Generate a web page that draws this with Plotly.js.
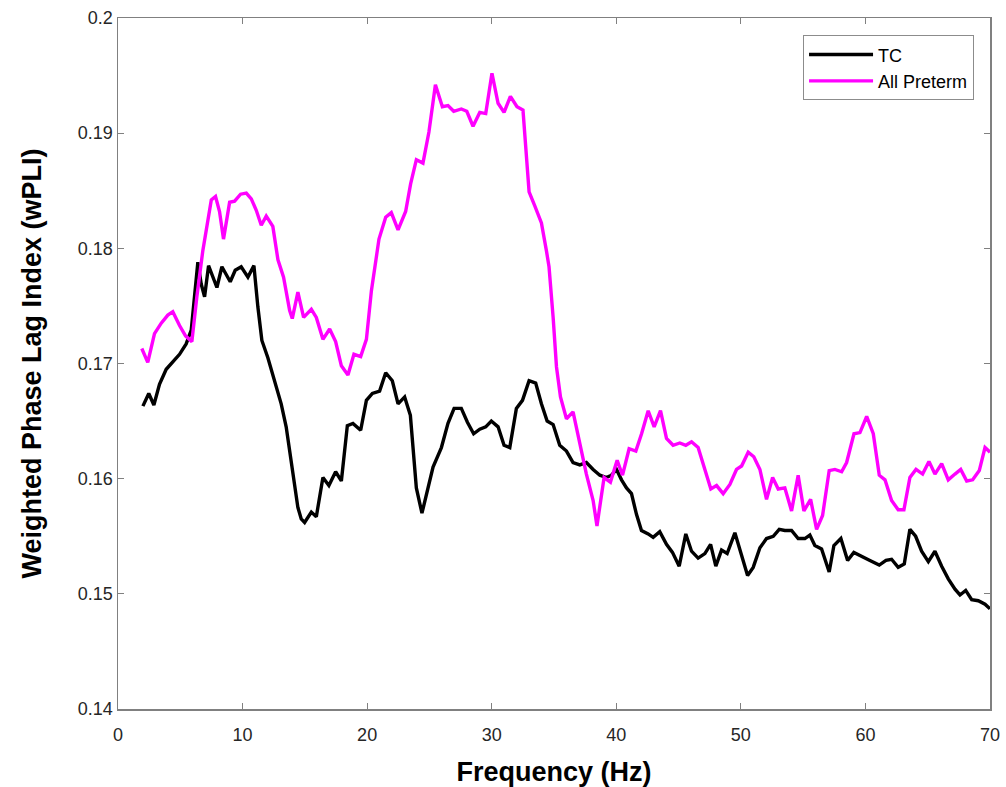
<!DOCTYPE html>
<html>
<head>
<meta charset="utf-8">
<script src="https://cdn.plot.ly/plotly-3.0.1.min.js"></script>
<style>html,body{margin:0;padding:0;background:#fff;}#chart{width:1006px;height:787px;}</style>
</head>
<body>
<div id="chart"></div>
<script>
const freqTC = [2.0,2.47,2.88,3.33,3.87,4.4,4.94,5.47,5.88,6.14,6.41,6.68,6.95,7.27,7.62,7.94,8.34,8.69,9.01,9.41,9.89,10.43,10.91,11.23,11.55,12.03,12.57,13.1,13.5,14.04,14.44,14.71,14.98,15.52,15.92,16.45,16.93,17.47,17.93,18.41,18.86,19.48,19.94,20.42,21.0,21.49,22.02,22.48,23.01,23.47,23.95,24.4,25.29,25.96,26.49,26.98,27.56,28.05,28.55,29.04,29.52,29.97,30.51,30.99,31.45,31.98,32.47,33.0,33.53,33.99,34.45,34.93,35.46,36.0,36.53,37.07,37.6,38.14,38.68,39.21,39.61,40.02,40.42,40.82,41.22,41.62,42.02,42.56,42.96,43.49,44.03,44.51,45.05,45.58,46.04,46.57,47.11,47.57,47.99,48.45,48.9,49.52,50.06,50.54,50.99,51.53,52.06,52.6,53.08,53.53,54.07,54.6,55.14,55.54,55.94,56.48,57.09,57.47,58.03,58.57,59.07,59.69,60.36,61.11,61.65,62.1,62.63,63.12,63.57,64.03,64.51,65.05,65.58,66.12,66.65,67.19,67.59,68.05,68.53,69.06,69.6,70.0];
const wpliTC = [0.1663,0.1674,0.1664,0.1682,0.1695,0.1701,0.1708,0.1717,0.1729,0.1758,0.1788,0.1769,0.1758,0.1785,0.1774,0.1766,0.1784,0.1777,0.1771,0.1781,0.1784,0.1775,0.1785,0.1749,0.1720,0.1705,0.1685,0.1665,0.1645,0.1604,0.1575,0.1565,0.1562,0.1571,0.1567,0.1601,0.1594,0.1606,0.1598,0.1646,0.1648,0.1642,0.1668,0.1674,0.1676,0.1692,0.1685,0.1665,0.1671,0.1655,0.1592,0.1570,0.1610,0.1627,0.1648,0.1661,0.1661,0.1649,0.1639,0.1643,0.1645,0.1650,0.1645,0.1629,0.1627,0.1661,0.1668,0.1685,0.1683,0.1665,0.1650,0.1647,0.1629,0.1624,0.1614,0.1612,0.1614,0.1608,0.1603,0.1601,0.1603,0.1608,0.1599,0.1592,0.1587,0.1569,0.1555,0.1552,0.1549,0.1554,0.1543,0.1536,0.1524,0.1552,0.1537,0.1531,0.1535,0.1543,0.1524,0.1538,0.1535,0.1553,0.1533,0.1516,0.1523,0.1540,0.1548,0.1550,0.1556,0.1555,0.1555,0.1548,0.1548,0.1551,0.1542,0.1539,0.1519,0.1542,0.1548,0.1529,0.1536,0.1533,0.1529,0.1525,0.1529,0.1530,0.1523,0.1526,0.1556,0.1550,0.1537,0.1528,0.1537,0.1524,0.1513,0.1504,0.1499,0.1503,0.1495,0.1494,0.1491,0.1487];
const freqPT = [1.91,2.39,2.93,3.47,4.0,4.4,4.94,5.42,5.93,6.33,6.81,7.16,7.49,7.83,8.15,8.47,8.74,8.96,9.36,9.84,10.3,10.7,11.1,11.5,11.9,12.43,12.84,13.29,13.78,13.99,14.44,14.9,15.52,15.92,16.45,16.99,17.47,17.93,18.46,18.94,19.48,19.94,20.34,20.95,21.49,21.94,22.48,23.09,23.49,23.95,24.48,24.96,25.48,26.04,26.49,26.95,27.56,28.0,28.5,29.04,29.52,30.02,30.51,30.99,31.5,32.03,32.51,33.0,33.45,33.99,34.39,34.6,34.93,35.2,35.52,36.0,36.53,37.01,37.6,38.14,38.45,39.02,39.53,40.07,40.5,41.03,41.57,42.03,42.56,43.04,43.55,44.03,44.56,45.1,45.58,46.04,46.57,47.11,47.59,48.05,48.58,49.12,49.65,50.06,50.59,51.04,51.53,52.06,52.55,53.0,53.53,54.07,54.6,55.06,55.6,56.08,56.56,57.09,57.55,58.09,58.49,59.08,59.56,60.1,60.63,61.11,61.57,62.1,62.63,63.09,63.57,64.06,64.59,65.1,65.58,66.12,66.65,67.19,67.65,68.13,68.61,69.14,69.6,70.0];
const wpliPT = [0.1713,0.1701,0.1726,0.1735,0.1742,0.1745,0.1733,0.1724,0.1719,0.1758,0.1798,0.1820,0.1842,0.1845,0.1832,0.1808,0.1827,0.1840,0.1841,0.1847,0.1848,0.1843,0.1833,0.1820,0.1828,0.1819,0.1790,0.1775,0.1746,0.1739,0.1762,0.1740,0.1747,0.1740,0.1721,0.1730,0.1719,0.1698,0.1690,0.1708,0.1706,0.1721,0.1763,0.1808,0.1827,0.1831,0.1816,0.1832,0.1856,0.1877,0.1874,0.1901,0.1942,0.1923,0.1924,0.1919,0.1921,0.1919,0.1906,0.1918,0.1917,0.1952,0.1926,0.1918,0.1932,0.1923,0.1920,0.1849,0.1837,0.1822,0.1798,0.1784,0.1740,0.1697,0.1671,0.1652,0.1658,0.1633,0.1604,0.1581,0.1559,0.1601,0.1597,0.1616,0.1603,0.1626,0.1624,0.1639,0.1659,0.1645,0.1659,0.1635,0.1629,0.1631,0.1629,0.1632,0.1627,0.1608,0.1591,0.1594,0.1587,0.1595,0.1608,0.1611,0.1623,0.1619,0.1608,0.1582,0.1601,0.1591,0.1592,0.1572,0.1603,0.1572,0.1582,0.1556,0.1568,0.1607,0.1608,0.1606,0.1614,0.1639,0.1640,0.1654,0.1639,0.1603,0.1599,0.1581,0.1573,0.1573,0.1601,0.1608,0.1604,0.1615,0.1604,0.1613,0.1599,0.1604,0.1608,0.1598,0.1599,0.1607,0.1627,0.1623];
const seriesNames = ["TC", "All Preterm"];
const xTicks = [0,10,20,30,40,50,60,70];
const yTicks = [0.14,0.15,0.16,0.17,0.18,0.19,0.2];
const yTickText = ["0.14","0.15","0.16","0.17","0.18","0.19","0.2"];

const FONT = 'Liberation Sans, Arial, sans-serif';
const traces = [
  {x: freqTC, y: wpliTC, name: seriesNames[0], type: 'scatter', mode: 'lines',
   line: {color: '#000000', width: 3.4}},
  {x: freqPT, y: wpliPT, name: seriesNames[1], type: 'scatter', mode: 'lines',
   line: {color: '#ff00ff', width: 3.4}}
];

const axisCommon = {
  showgrid: false, zeroline: false, showline: true, linecolor: '#808080', linewidth: 1.5,
  mirror: 'ticks', ticks: 'inside', ticklen: 6, tickcolor: '#808080', tickwidth: 1,
  tickfont: {family: FONT, size: 18, color: '#262626'}
};

const layout = {
  width: 1006, height: 787,
  margin: {l: 118, r: 16, t: 18, b: 78},
  paper_bgcolor: '#ffffff', plot_bgcolor: '#ffffff',
  showlegend: true,
  legend: {x: 0.7856, y: 0.975, xanchor: 'left', yanchor: 'top',
    bgcolor: '#ffffff', bordercolor: '#8c8c8c', borderwidth: 1,
    itemwidth: 64, tracegroupgap: 0,
    font: {family: FONT, size: 18, color: '#000'}},
  xaxis: Object.assign({}, axisCommon, {
    range: [0, 70], tickvals: xTicks, ticktext: xTicks.map(String),
    ticklabelstandoff: 9,
    title: {text: '<b>Frequency (Hz)</b>', standoff: 19,
      font: {family: FONT, size: 27, color: '#000'}}
  }),
  yaxis: Object.assign({}, axisCommon, {
    range: [0.14, 0.2], tickvals: yTicks, ticktext: yTickText,
    title: {text: '<b>Weighted Phase Lag Index (wPLI)</b>', standoff: 28,
      font: {family: FONT, size: 27, color: '#000'}}
  })
};

Plotly.newPlot('chart', traces, layout, {displayModeBar: false, staticPlot: true});
</script>
</body>
</html>
